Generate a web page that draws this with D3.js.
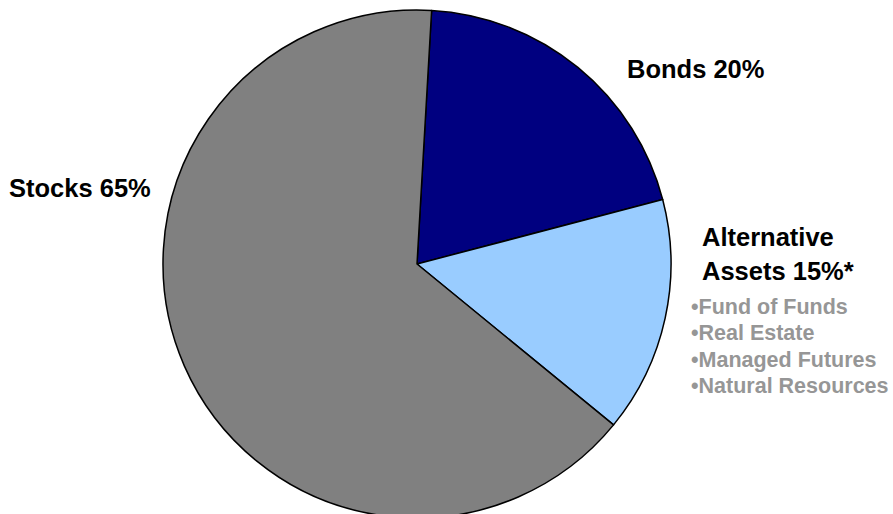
<!DOCTYPE html>
<html lang="en">
<head>
<meta charset="UTF-8">
<script src="https://d3js.org/d3.v7.min.js"></script>
<style>
    body { margin: 0; background: #fff; font-family: "Liberation Sans", Arial, sans-serif; overflow: hidden; }
    .label { font-weight: bold; font-size: 25.5px; fill: #000; }
    .sub { font-weight: bold; font-size: 21.5px; fill: #969696; }
</style>
</head>
<body>
<svg id="chart" width="893" height="514"></svg>
<script>
    const categories = ["Bonds", "Alternative Assets", "Stocks"];
    const values = [20, 15, 65];
    const colors = ["#000080", "#99ccff", "#808080"];
    const altItems = ["Fund of Funds", "Real Estate", "Managed Futures", "Natural Resources"];

    const width = 893, height = 514;
    const cx = 417, cy = 264, radius = 254;
    const offset = 3.3 * Math.PI / 180;

    const svg = d3.select("#chart");

    const pie = d3.pie().sort(null).value(d => d.value)
        .startAngle(offset).endAngle(offset + 2 * Math.PI);
    const arc = d3.arc().innerRadius(0).outerRadius(radius);
    const color = d3.scaleOrdinal().domain(categories).range(colors);

    const data = categories.map((c, i) => ({ name: c, value: values[i] }));

    svg.append("g").attr("transform", `translate(${cx},${cy})`)
        .selectAll("path").data(pie(data)).enter().append("path")
        .attr("d", arc)
        .attr("fill", d => color(d.data.name))
        .attr("stroke", "#000")
        .attr("stroke-width", 1.5)
        .attr("stroke-linejoin", "round");

    // labels
    svg.append("text").attr("class", "label").attr("x", 627).attr("y", 78)
        .text(`Bonds ${values[0]}%`);
    svg.append("text").attr("class", "label").attr("x", 9).attr("y", 197)
        .text(`Stocks ${values[2]}%`);
    svg.append("text").attr("class", "label").attr("x", 702).attr("y", 246)
        .text("Alternative");
    svg.append("text").attr("class", "label").attr("x", 702).attr("y", 280)
        .text(`Assets ${values[1]}%*`);

    svg.selectAll(".sub").data(altItems).enter().append("text")
        .attr("class", "sub")
        .attr("x", 691)
        .attr("y", (d, i) => 314 + i * 26.3)
        .text(d => "\u2022" + d);
</script>
</body>
</html>
